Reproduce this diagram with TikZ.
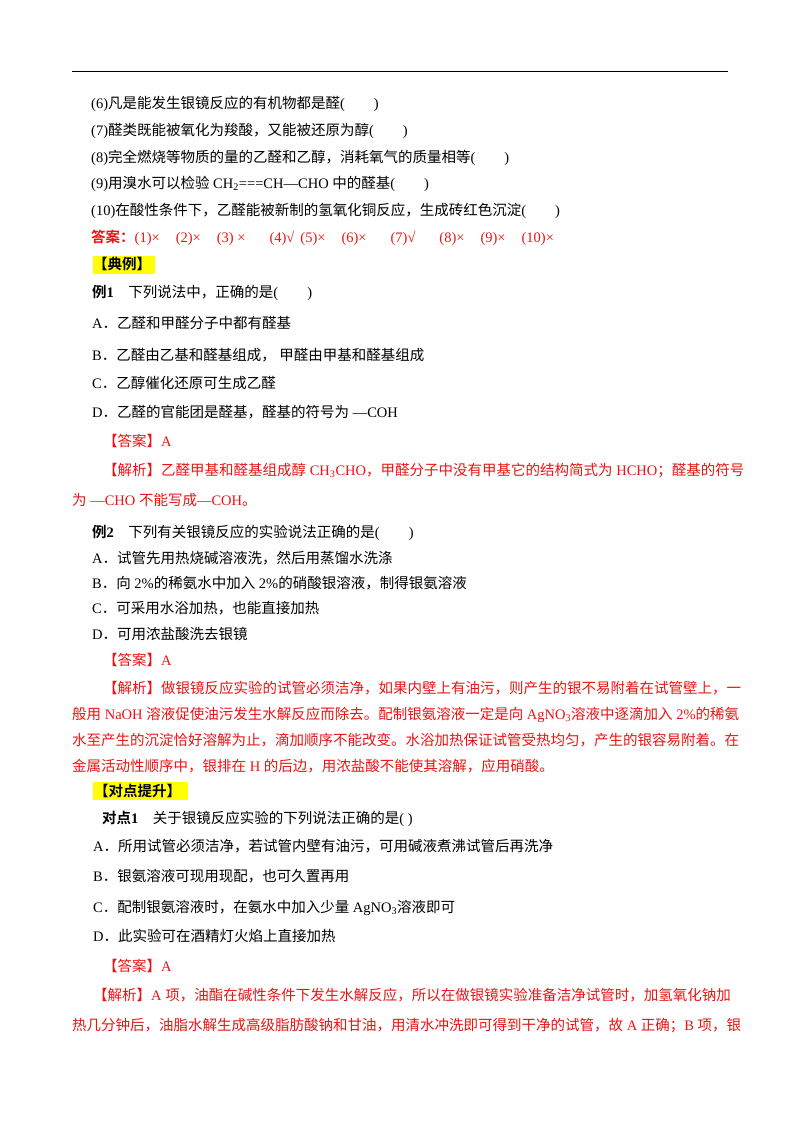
\documentclass[tikz,border=0pt]{standalone}
\usepackage{fontspec}
\setmainfont{Liberation Serif}
\newfontfamily\cjk{Noto Sans CJK SC}[BoldFont={Noto Sans CJK SC Bold}]
\XeTeXinterchartokenstate=1
\newXeTeXintercharclass\cjkclass
\newcount\cc
\cc="3000 \loop \XeTeXcharclass\cc=\cjkclass \advance\cc1 \ifnum\cc<"3040 \repeat
\cc="4E00 \loop \XeTeXcharclass\cc=\cjkclass \advance\cc1 \ifnum\cc<"A000 \repeat
\cc="FF00 \loop \XeTeXcharclass\cc=\cjkclass \advance\cc1 \ifnum\cc<"FFF0 \repeat
\XeTeXinterchartoks 0 \cjkclass = {\cjk}
\XeTeXinterchartoks 4095 \cjkclass = {\cjk}
\XeTeXinterchartoks \cjkclass 0 = {\rmfamily}
\XeTeXinterchartoks \cjkclass 4095 = {\rmfamily}
\definecolor{ans}{RGB}{235,20,20}
\definecolor{hl}{RGB}{255,255,0}
\begin{document}
\begin{tikzpicture}[x=1pt,y=-1pt,
  txt/.style={anchor=base west,inner sep=0pt,font=\fontsize{14.5}{17}\selectfont},
  red/.style={txt,text=ans},
  hlbox/.style={fill=hl,draw=none}]
\useasboundingbox (0,0) rectangle (800,1132);
\fill[white] (0,0) rectangle (800,1132);
\draw[line width=1pt] (72,72) coordinate (r1) -- (728,72) coordinate (r2);
\node[txt] (l1) at (91,108) {(6)凡是能发生银镜反应的有机物都是醛(\qquad)};
\node[txt] (l2) at (91,135) {(7)醛类既能被氧化为羧酸，又能被还原为醇(\qquad)};
\node[txt] (l3) at (91,162) {(8)完全燃烧等物质的量的乙醛和乙醇，消耗氧气的质量相等(\qquad)};
\node[txt] (l4) at (91,188) {(9)用溴水可以检验 CH\textsubscript{2}===CH—CHO 中的醛基(\qquad)};
\node[txt] (l5) at (91,215) {(10)在酸性条件下，乙醛能被新制的氢氧化铜反应，生成砖红色沉淀(\qquad)};
\node[red] (l6) at (91,242) {\textbf{答案：}(1)×\hspace{16pt}(2)×\hspace{16pt}(3) ×\hspace{24pt}(4)√\hspace{6pt}(5)×\hspace{16pt}(6)×\hspace{24pt}(7)√\hspace{24pt}(8)×\hspace{16pt}(9)×\hspace{16pt}(10)×};
\fill[hlbox] (93,256) rectangle (155,274);
\node[txt] (l7) at (93,269) {\textbf{【典例】}};
\node[txt] (l8) at (92,297) {\textbf{例1}\quad 下列说法中，正确的是(\qquad)};
\node[txt] (l9) at (92,328) {A．乙醛和甲醛分子中都有醛基};
\node[txt] (l10) at (92,360) {B．乙醛由乙基和醛基组成， 甲醛由甲基和醛基组成};
\node[txt] (l11) at (92,388) {C．乙醇催化还原可生成乙醛};
\node[txt] (l12) at (92,417) {D．乙醛的官能团是醛基，醛基的符号为 —COH};
\node[red] (l13) at (103,446) {【答案】A};
\node[red] (l14) at (103,475) {【解析】乙醛甲基和醛基组成醇 CH\textsubscript{3}CHO，甲醛分子中没有甲基它的结构简式为 HCHO；醛基的符号};
\node[red] (l15) at (72,505) {为 —CHO 不能写成—COH。};
\node[txt] (l16) at (92,537) {\textbf{例2}\quad 下列有关银镜反应的实验说法正确的是(\qquad)};
\node[txt] (l17) at (92,563) {A．试管先用热烧碱溶液洗，然后用蒸馏水洗涤};
\node[txt] (l18) at (92,588) {B．向 2\%的稀氨水中加入 2\%的硝酸银溶液，制得银氨溶液};
\node[txt] (l19) at (92,613) {C．可采用水浴加热，也能直接加热};
\node[txt] (l20) at (92,639) {D．可用浓盐酸洗去银镜};
\node[red] (l21) at (103,665) {【答案】A};
\node[red] (l22) at (103,693) {【解析】做银镜反应实验的试管必须洁净，如果内壁上有油污，则产生的银不易附着在试管壁上，一};
\node[red] (l23) at (72,719) {般用 NaOH 溶液促使油污发生水解反应而除去。配制银氨溶液一定是向 AgNO\textsubscript{3}溶液中逐滴加入 2\%的稀氨};
\node[red] (l24) at (72,745) {水至产生的沉淀恰好溶解为止，滴加顺序不能改变。水浴加热保证试管受热均匀，产生的银容易附着。在};
\node[red] (l25) at (72,771) {金属活动性顺序中，银排在 H 的后边，用浓盐酸不能使其溶解，应用硝酸。};
\fill[hlbox] (93,782) rectangle (188,800);
\node[txt] (l26) at (94,796) {\textbf{【对点提升】}};
\node[txt] (l27) at (102,823) {\textbf{对点1}\quad 关于银镜反应实验的下列说法正确的是(\ )};
\node[txt] (l28) at (93,851) {A．所用试管必须洁净，若试管内壁有油污，可用碱液煮沸试管后再洗净};
\node[txt] (l29) at (93,881) {B．银氨溶液可现用现配，也可久置再用};
\node[txt] (l30) at (93,912) {C．配制银氨溶液时，在氨水中加入少量 AgNO\textsubscript{3}溶液即可};
\node[txt] (l31) at (93,941) {D．此实验可在酒精灯火焰上直接加热};
\node[red] (l32) at (103,971) {【答案】A};
\node[red] (l33) at (93,1000) {【解析】A 项，油酯在碱性条件下发生水解反应，所以在做银镜实验准备洁净试管时，加氢氧化钠加};
\node[red] (l34) at (72,1030) {热几分钟后，油脂水解生成高级脂肪酸钠和甘油，用清水冲洗即可得到干净的试管，故 A 正确；B 项，银};
\end{tikzpicture}
\end{document}
